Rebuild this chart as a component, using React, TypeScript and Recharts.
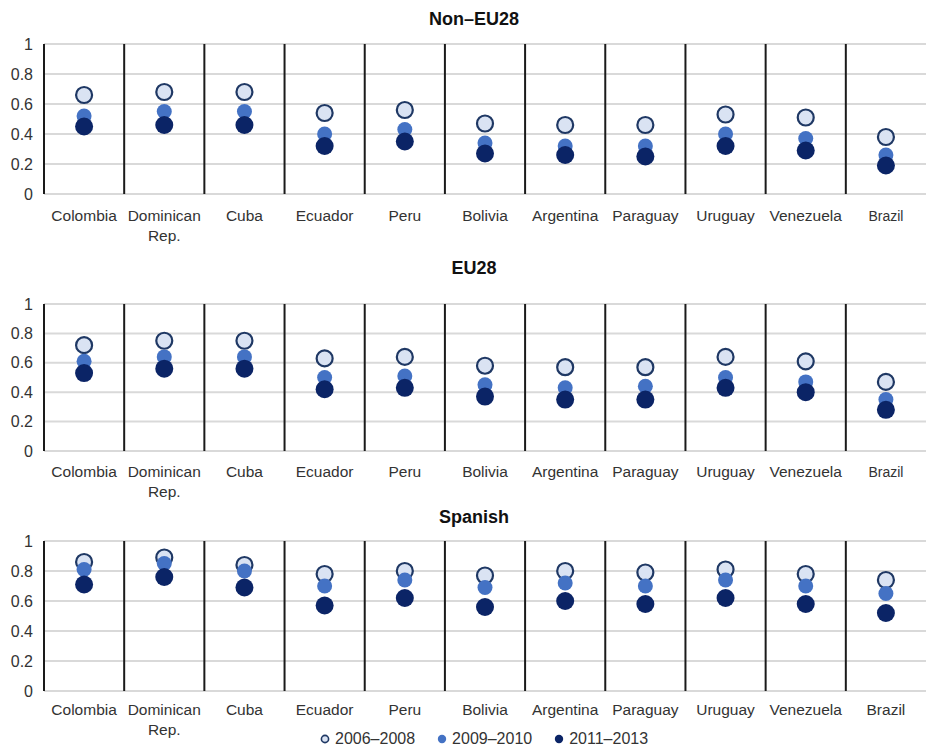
import { ScatterChart, Scatter, XAxis, YAxis, CartesianGrid, ReferenceLine } from "recharts";

const countries = [
  "Colombia",
  "Dominican Rep.",
  "Cuba",
  "Ecuador",
  "Peru",
  "Bolivia",
  "Argentina",
  "Paraguay",
  "Uruguay",
  "Venezuela",
  "Brazil",
];
// how each country name wraps under the axis
const countryLines = [
  ["Colombia"],
  ["Dominican", "Rep."],
  ["Cuba"],
  ["Ecuador"],
  ["Peru"],
  ["Bolivia"],
  ["Argentina"],
  ["Paraguay"],
  ["Uruguay"],
  ["Venezuela"],
  ["Brazil"],
];

const periods = ["2006–2008", "2009–2010", "2011–2013"];
const yTicks = [0, 0.2, 0.4, 0.6, 0.8, 1];

// Non–EU28
const nonEu0608 = [0.66, 0.68, 0.68, 0.54, 0.56, 0.47, 0.46, 0.46, 0.53, 0.51, 0.38];
const nonEu0910 = [0.52, 0.55, 0.55, 0.4, 0.43, 0.34, 0.32, 0.32, 0.4, 0.37, 0.26];
const nonEu1113 = [0.45, 0.46, 0.46, 0.32, 0.35, 0.27, 0.26, 0.25, 0.32, 0.29, 0.19];

// EU28
const eu0608 = [0.72, 0.75, 0.75, 0.63, 0.64, 0.58, 0.57, 0.57, 0.64, 0.61, 0.47];
const eu0910 = [0.61, 0.64, 0.64, 0.5, 0.51, 0.45, 0.43, 0.44, 0.5, 0.47, 0.35];
const eu1113 = [0.53, 0.56, 0.56, 0.42, 0.43, 0.37, 0.35, 0.35, 0.43, 0.4, 0.28];

// Spanish
const spa0608 = [0.86, 0.89, 0.84, 0.78, 0.8, 0.77, 0.8, 0.79, 0.81, 0.78, 0.74];
const spa0910 = [0.81, 0.85, 0.8, 0.7, 0.74, 0.69, 0.72, 0.7, 0.74, 0.7, 0.65];
const spa1113 = [0.71, 0.76, 0.69, 0.57, 0.62, 0.56, 0.6, 0.58, 0.62, 0.58, 0.52];

const FONT = "'Liberation Sans', Arial, sans-serif";
const TEXT = "#333";
const WIDTH = 927;

const markers = [
  { fill: "#dae3f3", stroke: "#1f3864", strokeWidth: 2.2, r: 8 },
  { fill: "#4472c4", stroke: "none", strokeWidth: 0, r: 7.5 },
  { fill: "#0b2466", stroke: "none", strokeWidth: 0, r: 9 },
];

const panels = [
  {
    title: "Non–EU28",
    titleY: 18.5,
    top: 0,
    height: 250,
    marginTop: 44,
    axisHeight: 56,
    labelDy: 19,
    smallBrazil: true,
    series: [nonEu0608, nonEu0910, nonEu1113],
  },
  {
    title: "EU28",
    titleY: 268,
    top: 250,
    height: 250,
    marginTop: 54,
    axisHeight: 49,
    labelDy: 18,
    smallBrazil: true,
    series: [eu0608, eu0910, eu1113],
  },
  {
    title: "Spanish",
    titleY: 517,
    top: 500,
    height: 249,
    marginTop: 41,
    axisHeight: 58,
    labelDy: 16,
    smallBrazil: false,
    series: [spa0608, spa0910, spa1113],
  },
];

// points sit in the middle of each country's band, band edges at whole numbers
const xTicks = countries.map((_, i) => i + 0.5);
const separators = countries.slice(1).map((_, i) => i + 1);

const toPoints = (values: number[]) =>
  countries.map((c, i) => ({ country: c, pos: i + 0.5, value: values[i] }));

const dotShape = (m: (typeof markers)[number]) => (props: any) =>
  (
    <circle
      cx={props.cx}
      cy={props.cy}
      r={m.r}
      fill={m.fill}
      stroke={m.stroke}
      strokeWidth={m.strokeWidth}
    />
  );

function CountryTick(props: any) {
  const { x, y, payload, labelDy, smallBrazil } = props;
  const idx = Math.floor(payload.value);
  const lines = countryLines[idx] || [];
  const small = smallBrazil && countries[idx] === "Brazil";
  return (
    <text
      x={x}
      y={y + labelDy}
      textAnchor="middle"
      fill={TEXT}
      fontFamily={FONT}
      fontSize={small ? 14 : 15.5}
    >
      {lines.map((l: string, k: number) => (
        <tspan key={l} x={x} dy={k === 0 ? 0 : 20}>
          {l}
        </tspan>
      ))}
    </text>
  );
}

function Panel({ p }: { p: (typeof panels)[number] }) {
  return (
    <div style={{ position: "absolute", left: 0, top: p.top, width: WIDTH, height: p.height }}>
      <ScatterChart
        width={WIDTH}
        height={p.height}
        margin={{ top: p.marginTop, right: 1, bottom: 0, left: 0 }}
      >
        <CartesianGrid vertical={false} stroke="#d9d9d9" strokeWidth={2} />
        <XAxis
          type="number"
          dataKey="pos"
          domain={[0, countries.length]}
          ticks={xTicks}
          interval={0}
          height={p.axisHeight}
          axisLine={false}
          tickLine={false}
          tick={<CountryTick labelDy={p.labelDy} smallBrazil={p.smallBrazil} />}
        />
        <YAxis
          type="number"
          dataKey="value"
          domain={[0, 1]}
          ticks={yTicks}
          width={44}
          tickSize={6}
          tickMargin={5}
          tickLine={false}
          axisLine={{ stroke: "#1a1a1a", strokeWidth: 2 }}
          tick={{ fill: TEXT, fontSize: 16, fontFamily: FONT }}
        />
        {separators.map((s) => (
          <ReferenceLine key={s} x={s} stroke="#1a1a1a" strokeWidth={2} />
        ))}
        {p.series.map((vals, i) => (
          <Scatter
            key={periods[i]}
            name={periods[i]}
            data={toPoints(vals)}
            shape={dotShape(markers[i])}
            isAnimationActive={false}
          />
        ))}
      </ScatterChart>
      <div
        style={{
          position: "absolute",
          left: 0,
          width: 948,
          top: p.titleY - 11 - p.top,
          lineHeight: "22px",
          textAlign: "center",
          fontFamily: FONT,
          fontWeight: "bold",
          fontSize: 18,
          color: "#111",
        }}
      >
        {p.title}
      </div>
    </div>
  );
}

export default function App() {
  return (
    <div
      style={{
        position: "absolute",
        left: 0,
        top: 0,
        width: WIDTH,
        height: 749,
        background: "#fff",
        overflow: "hidden",
      }}
    >
      {panels.map((p) => (
        <Panel key={p.title} p={p} />
      ))}
      <div
        style={{
          position: "absolute",
          left: 320,
          top: 728,
          display: "flex",
          gap: 22,
          fontFamily: FONT,
          fontSize: 16,
          color: TEXT,
          lineHeight: "22px",
        }}
      >
        {periods.map((name, i) => (
          <div key={name} style={{ display: "flex", alignItems: "center" }}>
            <svg width={10} height={10}>
              <circle
                cx={5}
                cy={5}
                r={i === 0 ? 3.6 : 4.2}
                fill={markers[i].fill}
                stroke={markers[i].stroke}
                strokeWidth={i === 0 ? 1.6 : 0}
              />
            </svg>
            <span style={{ marginLeft: 5 }}>{name}</span>
          </div>
        ))}
      </div>
    </div>
  );
}
